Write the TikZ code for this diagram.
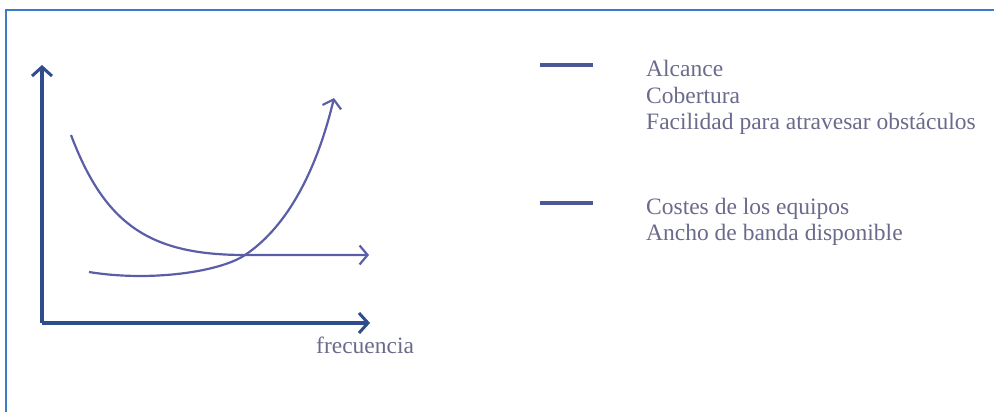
\documentclass[tikz,border=0pt]{standalone}
\usepackage{fontspec}
\setmainfont{Liberation Serif}
\usetikzlibrary{arrows.meta}
\definecolor{framecol}{HTML}{3B7BC8}
\definecolor{axiscol}{HTML}{2F4C8C}
\definecolor{curvecol}{HTML}{5A5EA6}
\definecolor{barcol}{HTML}{4A5896}
\definecolor{textcol}{HTML}{6A6A8C}
\begin{document}
\begin{tikzpicture}[x=1pt, y=-1pt,
        axis/.style={draw=axiscol, line width=3.2pt, -{Straight Barb[length=9pt,width=20pt,line width=3pt]}},
        curve/.style={draw=curvecol, line width=2.2pt},
        legbar/.style={draw=barcol, line width=4pt},
        legtext/.style={text=textcol, font=\fontsize{23.5}{26}\selectfont, inner sep=0pt, anchor=base west}]
            \useasboundingbox (0,0) rectangle (994,412);
            \draw[framecol, line width=2pt] (6,412) -- (6,10) -- (994,10);
            % ejes
            \coordinate (o) at (42,323);
            \coordinate (ytop) at (42,65);
            \coordinate (xend) at (370,323);
            \draw[axis] (o) -- (ytop);
            \draw[axis] (o) -- (xend);
            \node[legtext] (frec) at (316,353) {frecuencia};
            % curvas
            \coordinate (a0) at (71,135);
            \coordinate (cr) at (245,255);
            \coordinate (a1) at (369,255);
            \coordinate (b0) at (89,272);
            \coordinate (b1) at (334,98);
            \draw[curve, -{Straight Barb[length=8pt,width=19pt,line width=2.2pt]}]
                (a0) .. controls (105,225) and (150,255) .. (cr) -- (a1);
            \draw[curve, -{Straight Barb[length=8pt,width=19pt,line width=2.2pt]}]
                (b0) .. controls (150,282) and (220,272) .. (cr)
                .. controls (290,225) and (318,165) .. (b1);
            % leyenda
            \coordinate (l1a) at (540,65);
            \coordinate (l1b) at (593,65);
            \coordinate (l2a) at (540,203);
            \coordinate (l2b) at (593,203);
            \draw[legbar] (l1a) -- (l1b);
            \draw[legbar] (l2a) -- (l2b);
            \node[legtext] (alc) at (646,77) {Alcance};
            \node[legtext] (cob) at (646,103) {Cobertura};
            \node[legtext] (fac) at (646,129) {Facilidad para atravesar obstáculos};
            \node[legtext] (cos) at (646,214) {Costes de los equipos};
            \node[legtext] (anc) at (646,240) {Ancho de banda disponible};
        \end{tikzpicture}
\end{document}
